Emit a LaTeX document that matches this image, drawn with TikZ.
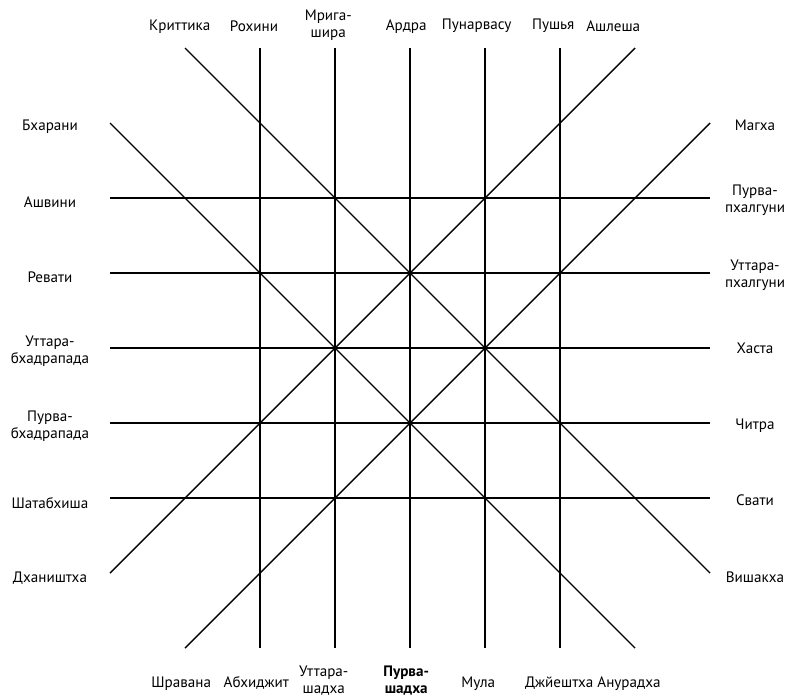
\documentclass[tikz,border=0pt]{standalone}
\usepackage{fontspec}
\setmainfont{PT Sans}
\begin{document}
\begin{tikzpicture}[x=1.5cm,y=1.5cm,
	trait/.style={line width=0.8pt},
	etiquette/.style={font=\fontsize{8.6}{9.7}\selectfont,align=center,inner sep=0pt}]
		
		% Cadre (marges de la figure)
		\useasboundingbox (-5.4667,-4.6267) rectangle (5.08,4.64);
		
		% Lignes verticales
		\draw[trait] (-2,4) -- (-2,-4);
		\draw[trait] (-1,4) -- (-1,-4);
		\draw[trait] (0,4) -- (0,-4);
		\draw[trait] (1,4) -- (1,-4);
		\draw[trait] (2,4) -- (2,-4);
		
		% Lignes horizontales
		\draw[trait] (-4,2) -- (4,2);
		\draw[trait] (-4,1) -- (4,1);
		\draw[trait] (-4,0) -- (4,0);
		\draw[trait] (-4,-1) -- (4,-1);
		\draw[trait] (-4,-2) -- (4,-2);
		
		% Diagonales
		\draw[trait] (-3,4) -- (4,-3);
		\draw[trait] (-4,3) -- (3,-4);
		\draw[trait] (-4,-3) -- (3,4);
		\draw[trait] (-3,-4) -- (4,3);
		
		% Labels en haut
		\node[etiquette] (krittika) at (-3.07,4.29) {Криттика};
		\node[etiquette] (rohini) at (-2.08,4.29) {Рохини};
		\node[etiquette] (mrigashira) at (-1.09,4.31) {Мрига-\\шира};
		\node[etiquette] (ardra) at (-0.05,4.29) {Ардра};
		\node[etiquette] (punarvasu) at (0.89,4.29) {Пунарвасу};
		\node[etiquette] (pushya) at (1.91,4.29) {Пушья};
		\node[etiquette] (ashlesha) at (2.71,4.29) {Ашлеша};
		
		% Labels en bas
		\node[etiquette] (shravana) at (-3.05,-4.47) {Шравана};
		\node[etiquette] (abhijit) at (-2.05,-4.47) {Абхиджит};
		\node[etiquette] (uttarashadha) at (-1.15,-4.43) {Уттара-\\шадха};
		\node[etiquette,font=\fontsize{8.6}{9.7}\selectfont\bfseries] (purvashadha) at (-0.05,-4.43) {Пурва-\\шадха};
		\node[etiquette] (mula) at (0.91,-4.47) {Мула};
		\node[etiquette] (jyeshtha) at (1.99,-4.47) {Джйештха};
		\node[etiquette] (anuradha) at (2.92,-4.47) {Анурадха};
		
		% Labels à gauche
		\node[etiquette] (bharani) at (-4.8,2.95) {Бхарани};
		\node[etiquette] (ashvini) at (-4.8,1.95) {Ашвини};
		\node[etiquette] (revati) at (-4.8,0.95) {Ревати};
		\node[etiquette] (uttarabhadrapada) at (-4.8,-0.04) {Уттара-\\бхадрапада};
		\node[etiquette] (purvabhadrapada) at (-4.8,-1.04) {Пурва-\\бхадрапада};
		\node[etiquette] (shatabhisha) at (-4.8,-2.07) {Шатабхиша};
		\node[etiquette] (dhanishtha) at (-4.8,-3.07) {Дхаништха};
		
		% Labels à droite
		\node[etiquette] (magha) at (4.6,2.97) {Магха};
		\node[etiquette] (purvaphalguni) at (4.6,1.97) {Пурва-\\пхалгуни};
		\node[etiquette] (uttaraphalguni) at (4.6,0.97) {Уттара-\\пхалгуни};
		\node[etiquette] (hasta) at (4.6,0) {Хаста};
		\node[etiquette] (chitra) at (4.6,-1.03) {Читра};
		\node[etiquette] (svati) at (4.6,-2.03) {Свати};
		\node[etiquette] (vishakha) at (4.6,-3.05) {Вишакха};
		
	\end{tikzpicture}
\end{document}
